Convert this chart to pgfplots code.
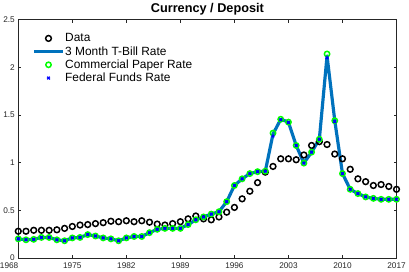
\documentclass[border=0pt]{standalone}
\usepackage{pgfplots}
\usepackage{pgfplotstable}
\pgfplotsset{compat=1.18}
\usepackage{fontspec}
\setmainfont{Liberation Sans}
\definecolor{mblue}{rgb}{0,0.447,0.741}
\definecolor{axgray}{rgb}{0.15,0.15,0.15}
\pgfplotstableread{
year data tbill cp ff
1968 0.28 0.20 0.20 0.20
1969 0.28 0.19 0.19 0.19
1970 0.29 0.195 0.195 0.195
1971 0.29 0.215 0.215 0.215
1972 0.29 0.215 0.215 0.215
1973 0.295 0.19 0.19 0.19
1974 0.31 0.18 0.18 0.18
1975 0.33 0.21 0.21 0.21
1976 0.345 0.215 0.215 0.215
1977 0.35 0.245 0.245 0.245
1978 0.36 0.23 0.23 0.23
1979 0.37 0.21 0.21 0.21
1980 0.385 0.20 0.20 0.20
1981 0.38 0.18 0.18 0.18
1982 0.39 0.21 0.21 0.21
1983 0.38 0.225 0.225 0.225
1984 0.39 0.225 0.225 0.225
1985 0.375 0.265 0.265 0.265
1986 0.355 0.30 0.30 0.30
1987 0.345 0.31 0.31 0.31
1988 0.36 0.31 0.31 0.31
1989 0.38 0.31 0.31 0.31
1990 0.41 0.35 0.35 0.35
1991 0.44 0.40 0.40 0.40
1992 0.41 0.43 0.43 0.43
1993 0.40 0.46 0.46 0.46
1994 0.43 0.485 0.485 0.485
1995 0.48 0.59 0.59 0.59
1996 0.53 0.76 0.76 0.76
1997 0.62 0.83 0.83 0.83
1998 0.70 0.885 0.885 0.885
1999 0.79 0.905 0.905 0.905
2000 0.90 0.91 0.91 0.91
2001 0.96 1.30 1.31 1.28
2002 1.04 1.455 1.455 1.45
2003 1.04 1.425 1.425 1.42
2004 1.03 1.18 1.18 1.18
2005 1.08 0.995 0.995 0.995
2006 1.18 1.11 1.11 1.11
2007 1.22 1.245 1.245 1.245
2008 1.19 2.12 2.14 2.10
2009 1.09 1.44 1.44 1.43
2010 1.04 0.885 0.885 0.885
2011 0.93 0.72 0.72 0.72
2012 0.83 0.675 0.675 0.675
2013 0.80 0.64 0.64 0.64
2014 0.76 0.625 0.625 0.625
2015 0.77 0.615 0.615 0.615
2016 0.75 0.615 0.615 0.615
2017 0.72 0.615 0.615 0.615
}\datatable
\begin{document}
\begin{tikzpicture}
\begin{axis}[
  scale only axis,
  width=381pt, height=240pt,
  xmin=1968, xmax=2017, ymin=0, ymax=2.5,
  xtick={1968,1975,1982,1989,1996,2003,2010,2017},
  xticklabels={\makebox[0pt][r]{1968},1975,1982,1989,1996,2003,2010,2017},
  ytick={0,0.5,1,1.5,2,2.5},
  yticklabels={0,0.5,1,1.5,2,2.5},
  x tick label style={yshift=-1pt},
  tick label style={font=\fontsize{8.3}{9}\selectfont, text=axgray},
  tick align=inside,
  major tick length=3pt,
  axis line style={axgray, line width=0.5pt},
  every tick/.style={axgray, line width=0.5pt},
  title={\bfseries Currency / Deposit},
  title style={font=\fontsize{12.8}{13}\selectfont, yshift=-5pt},
  legend style={draw=none, fill=none, at={(0.03,0.955)}, anchor=north west,
    font=\fontsize{12}{13}\selectfont, row sep=1.2pt,
    nodes={inner sep=1pt}},
  legend cell align=left,
  legend image code/.code={\draw[mark repeat=2,mark phase=2,#1] plot coordinates {(0cm,0cm) (0.5cm,0cm) (1cm,0cm)};},
  clip=false,
]
\addplot[only marks, mark=o, mark size=2.9pt, mark options={line width=1.5pt, black}] table[x=year,y=data] {\datatable};
\addlegendentry{Data}
\addplot[mblue, line width=3.2pt, line join=round, no marks] table[x=year,y=tbill] {\datatable};
\addlegendentry{3 Month T-Bill Rate}
\addplot[only marks, mark=o, mark size=2.7pt, mark options={line width=1.5pt, draw=green}] table[x=year,y=cp] {\datatable};
\addlegendentry{Commercial Paper Rate}
\addplot[only marks, mark=x, mark size=1.9pt, mark options={line width=1.3pt, draw=blue}] table[x=year,y=ff] {\datatable};
\addlegendentry{Federal Funds Rate}
\end{axis}
\end{tikzpicture}
\end{document}
